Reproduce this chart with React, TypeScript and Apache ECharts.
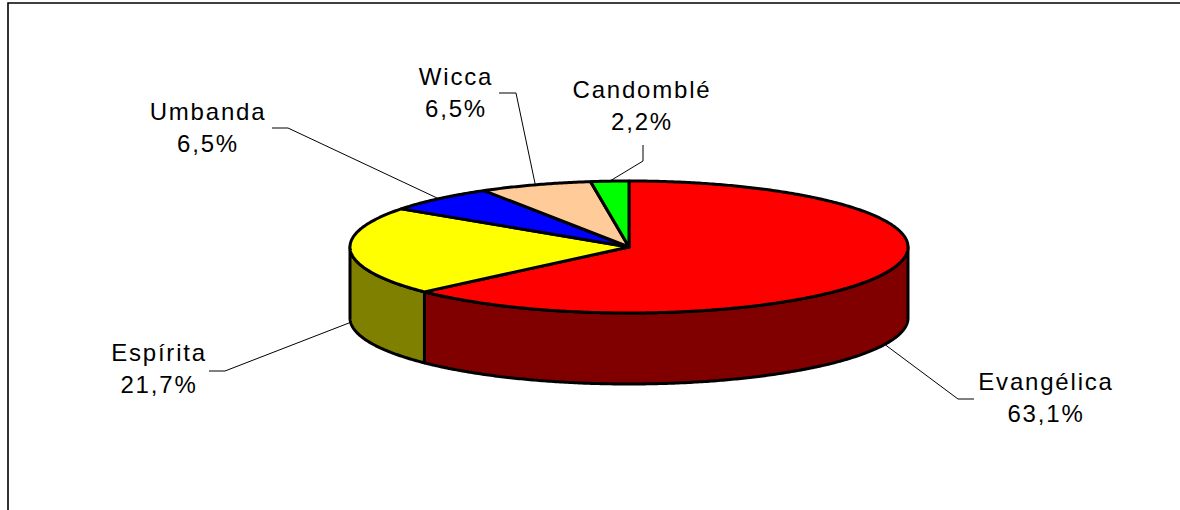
import React, { useEffect, useRef } from "react";
import * as echarts from "echarts";

const categories = ["Evangélica", "Espírita", "Umbanda", "Wicca", "Candomblé"];
const shares = [63.1, 21.7, 6.5, 6.5, 2.2];
const topColors = ["#FF0000", "#FFFF00", "#0000FF", "#FFCC99", "#00FF00"];
const sideColors = ["#800000", "#808000", "#000080", "#806650", "#008000"];

// Layout of the tilted pie, in pixels
const CX = 629;
const CY = 247;
const RX = 279;
const RY = 66;
const DEPTH = 71;

// Leader-line elbows and label anchors for each category
const elbows = [
  [[958, 399], [974, 399]],
  [[225, 371], [209, 371]],
  [[288, 128], [272, 128]],
  [[516, 93], [499, 93]],
  [[643, 161], [643, 145]],
];
const labelAnchors = [
  [1046, 397.5],
  [159, 368.5],
  [208, 127],
  [456, 92],
  [642, 105.5],
];

const total = shares.reduce((a, b) => a + b, 0);
const startDeg = (i: number) => (shares.slice(0, i).reduce((a, b) => a + b, 0) / total) * 360;
const endDeg = (i: number) => startDeg(i + 1);
const rad = (d: number) => (d * Math.PI) / 180;
const rim = (deg: number, dy = 0): [number, number] => [
  CX + RX * Math.sin(rad(deg)),
  CY - RY * Math.cos(rad(deg)) + dy,
];
const arc = (from: number, to: number, dy = 0) => {
  const pts: [number, number][] = [];
  const n = Math.max(2, Math.ceil(Math.abs(to - from) * 2));
  for (let k = 0; k <= n; k++) pts.push(rim(from + ((to - from) * k) / n, dy));
  return pts;
};

const edgeStyle = { stroke: "#000", lineWidth: 3, lineJoin: "round" as const };

const renderSide = (_: unknown, api: any) => {
  const i = api.value(0) as number;
  const a = Math.max(startDeg(i), 90);
  const b = Math.min(endDeg(i), 270);
  if (a >= b) return { type: "group", children: [] };
  return {
    type: "polygon",
    shape: { points: [...arc(a, b, 0), ...arc(b, a, DEPTH)] },
    style: { ...edgeStyle, fill: sideColors[i] },
  };
};

const renderTop = (_: unknown, api: any) => {
  const i = api.value(0) as number;
  return {
    type: "polygon",
    shape: { points: [[CX, CY], ...arc(startDeg(i), endDeg(i))] },
    style: { ...edgeStyle, fill: topColors[i] },
  };
};

const renderLabel = (_: unknown, api: any) => {
  const i = api.value(0) as number;
  const mid = (startDeg(i) + endDeg(i)) / 2;
  const visibleFront = mid > 90 && mid < 270;
  const start = rim(mid, visibleFront ? DEPTH : 0);
  const [x, y] = labelAnchors[i];
  return {
    type: "group",
    children: [
      {
        type: "polyline",
        shape: { points: [start, ...elbows[i]] },
        style: { stroke: "#000", lineWidth: 1, fill: "none" },
      },
      {
        type: "text",
        x,
        y,
        style: {
          text: `${categories[i]}\n${shares[i].toFixed(1).replace(".", ",")}%`,
          fill: "#000",
          font: '24px "Liberation Sans"',
          lineHeight: 32,
          align: "center",
          verticalAlign: "middle",
        },
      },
    ],
  };
};

export default function App() {
  const ref = useRef<HTMLDivElement>(null);
  useEffect(() => {
    const chart = echarts.init(ref.current!, undefined, { renderer: "svg" });
    const data = shares.map((v, i) => [i, v]);
    chart.setOption({
      animation: false,
      backgroundColor: "#fff",
      graphic: [
        {
          type: "polyline",
          silent: true,
          shape: { points: [[8, 510], [8, 3], [1180, 3]] },
          style: { stroke: "#000", lineWidth: 1.6, fill: "none" },
        },
      ],
      series: [
        { type: "custom", coordinateSystem: "none", data, renderItem: renderSide, z: 2 },
        { type: "custom", coordinateSystem: "none", data, renderItem: renderTop, z: 3 },
        { type: "custom", coordinateSystem: "none", data, renderItem: renderLabel, z: 1 },
      ],
    });
    return () => chart.dispose();
  }, []);
  return (
    <div
      ref={ref}
      style={{ position: "fixed", left: 0, top: 0, width: 1180, height: 510, letterSpacing: "1.8px" }}
    />
  );
}
